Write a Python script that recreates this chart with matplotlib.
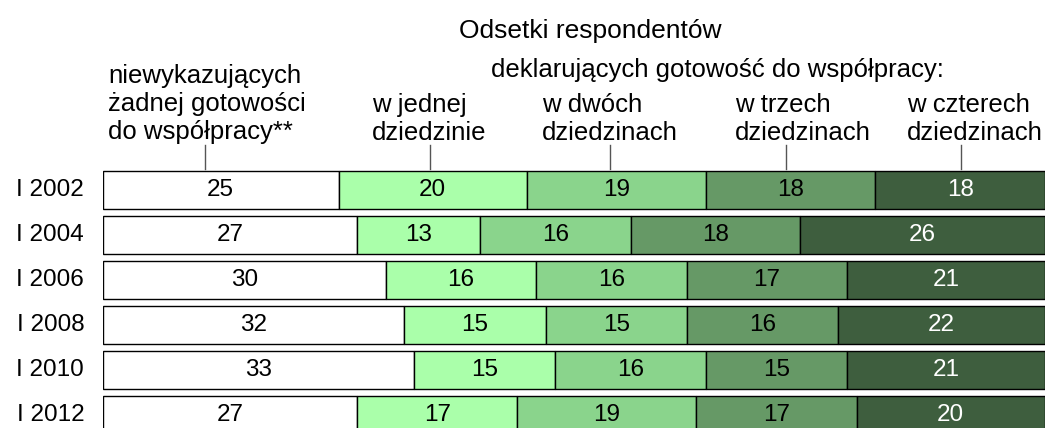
import matplotlib.pyplot as plt
from matplotlib.lines import Line2D

plt.rcParams['font.family'] = ['Liberation Sans', 'DejaVu Sans']

# data
years = ['I 2002', 'I 2004', 'I 2006', 'I 2008', 'I 2010', 'I 2012']
none_ready = [25, 27, 30, 32, 33, 27]
one_domain = [20, 13, 16, 15, 15, 17]
two_domains = [19, 16, 16, 15, 16, 19]
three_domains = [18, 18, 17, 16, 15, 17]
four_domains = [18, 26, 21, 22, 21, 20]

series = [none_ready, one_domain, two_domains, three_domains, four_domains]
colors = ['#ffffff', '#aaffaa', '#8ad48c', '#669966', '#3e5e3e']
text_colors = ['black', 'black', 'black', 'black', 'white']

W, H = 1048, 428
fig = plt.figure(figsize=(W / 100, H / 100), dpi=100)

# axes placed in pixel terms: x from 103 to 1045, y from 168 to bottom
ax = fig.add_axes([103 / W, 0, (1045 - 103) / W, (H - 168) / H])
ax.set_xlim(0, 100)
ax.set_ylim((H - 190) / 45, -(190 - 168) / 45)
ax.axis('off')

fs = 17.5
hfs = 18.5

ypos = list(range(len(years)))
left = [0] * len(years)
for vals, col, tcol in zip(series, colors, text_colors):
    ax.barh(ypos, vals, left=left, height=0.85, color=col,
            edgecolor='black', linewidth=1)
    for y, v, l in zip(ypos, vals, left):
        ax.text(l + v / 2, y, str(v), ha='center', va='center',
                fontsize=fs, color=tcol)
    left = [a + b for a, b in zip(left, vals)]

for y, lab in zip(ypos, years):
    ax.text(-2.0, y, lab, ha='right', va='center', fontsize=fs)

# header
def fx(px):
    return px / W

def fy(py):
    return 1 - py / H

fig.text(fx(590), fy(31), 'Odsetki respondentów', ha='center', va='center', fontsize=hfs + 0.5)
fig.text(fx(717), fy(70), 'deklarujących gotowość do współpracy:', ha='center', va='center', fontsize=hfs)
fig.text(fx(108), fy(104), 'niewykazujących\nżadnej gotowości\ndo współpracy**',
         ha='left', va='center', fontsize=hfs, linespacing=1.22)
fig.text(fx(372), fy(119), 'w jednej\ndziedzinie', ha='left', va='center', fontsize=hfs, linespacing=1.22)
fig.text(fx(542), fy(119), 'w dwóch\ndziedzinach', ha='left', va='center', fontsize=hfs, linespacing=1.22)
fig.text(fx(735), fy(119), 'w trzech\ndziedzinach', ha='left', va='center', fontsize=hfs, linespacing=1.22)
fig.text(fx(907), fy(119), 'w czterech\ndziedzinach', ha='left', va='center', fontsize=hfs, linespacing=1.22)

for px in [205, 430, 610, 786, 961]:
    fig.add_artist(Line2D([fx(px), fx(px)], [fy(145), fy(169)], color='#555555', linewidth=1))

fig.savefig('out.png', dpi=100)
